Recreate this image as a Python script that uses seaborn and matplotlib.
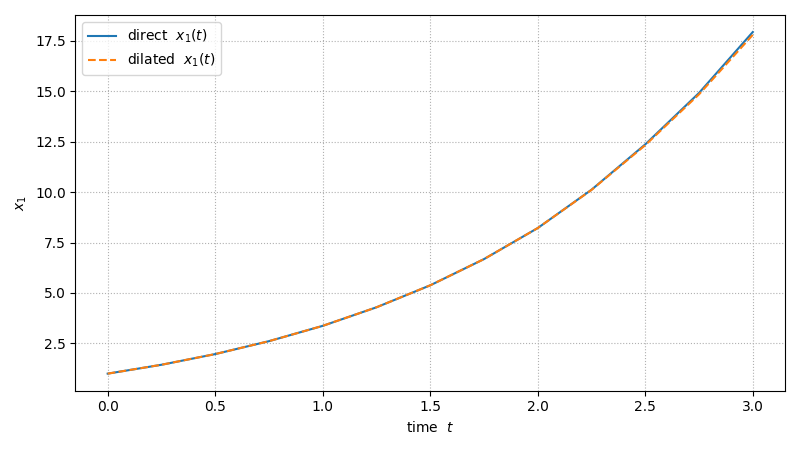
import numpy as np
import pandas as pd
import matplotlib
matplotlib.use("Agg")
import matplotlib.pyplot as plt
import seaborn as sns

# values
t = [0.0, 0.25, 0.5, 0.75, 1.0, 1.25, 1.5, 1.75, 2.0, 2.25, 2.5, 2.75, 3.0]
x1_direct = [1.0, 1.44, 1.97, 2.61, 3.37, 4.29, 5.38, 6.68, 8.22, 10.12, 12.37, 14.92, 17.94]
x1_dilated = [1.0, 1.44, 1.97, 2.61, 3.37, 4.29, 5.38, 6.68, 8.22, 10.11, 12.33, 14.85, 17.80]

df = pd.DataFrame({"t": t, "direct": x1_direct, "dilated": x1_dilated})

fig, ax = plt.subplots(figsize=(8, 4.5), dpi=100)
sns.lineplot(data=df, x="t", y="direct", ax=ax, color="C0", lw=1.5,
             label=r"direct  $x_1(t)$")
sns.lineplot(data=df, x="t", y="dilated", ax=ax, color="C1", lw=1.5,
             linestyle="--", label=r"dilated  $x_1(t)$")

ax.set_xlabel(r"time  $t$")
ax.set_ylabel(r"$x_1$")
ax.grid(True, linestyle=":", color="#b0b0b0", linewidth=0.8)
ax.legend(loc="upper left")

plt.tight_layout()
plt.savefig("out.png", dpi=100)
